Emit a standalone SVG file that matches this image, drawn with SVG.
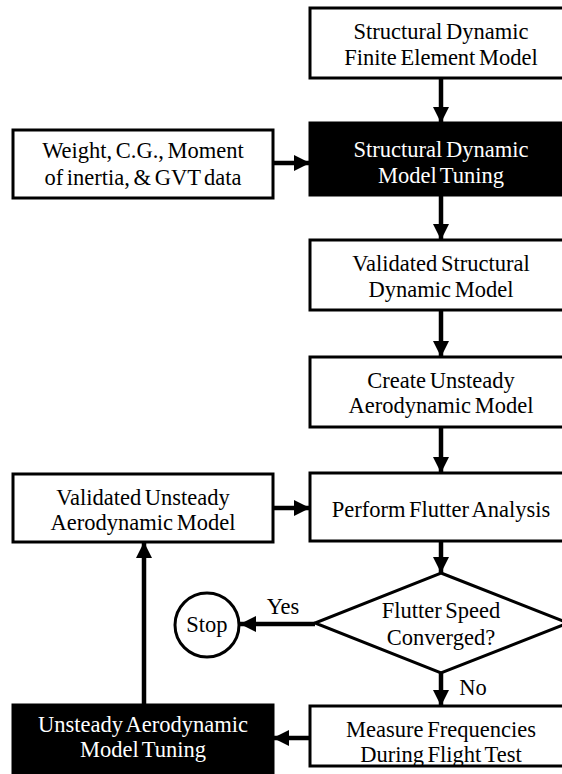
<svg xmlns="http://www.w3.org/2000/svg" width="562" height="774" viewBox="0 0 562 774">
  <style>
    .box { fill: #fff; stroke: #000; stroke-width: 3; }
    .dark { fill: #000; stroke: #000; stroke-width: 3; }
    text { font-family: 'Liberation Serif', 'DejaVu Serif', serif; font-size: 22.5px; word-spacing: -2px; fill: #000; text-anchor: middle; }
    text.w { fill: #fff; }
    .link { fill: none; stroke: #000; stroke-width: 4.5; }
  </style>
  <defs>
    <marker id="head" markerUnits="userSpaceOnUse" markerWidth="16" markerHeight="16" viewBox="0 0 16 16" refX="16" refY="8" orient="auto">
      <path d="M0,0 L16,8 L0,16 Z" fill="#000"/>
    </marker>
  </defs>
  <rect width="562" height="774" fill="#fff"/>

  <g id="connectors">
    <line class="link" x1="441" y1="78" x2="441" y2="123" marker-end="url(#head)"/>
    <line class="link" x1="273" y1="163" x2="310" y2="163" marker-end="url(#head)"/>
    <line class="link" x1="441" y1="195" x2="441" y2="240" marker-end="url(#head)"/>
    <line class="link" x1="441" y1="310" x2="441" y2="357" marker-end="url(#head)"/>
    <line class="link" x1="441" y1="427" x2="441" y2="473" marker-end="url(#head)"/>
    <line class="link" x1="273" y1="508" x2="310" y2="508" marker-end="url(#head)"/>
    <line class="link" x1="441" y1="541" x2="441" y2="573" marker-end="url(#head)"/>
    <line class="link" x1="315" y1="624" x2="240" y2="624" marker-end="url(#head)"/>
    <line class="link" x1="441" y1="673" x2="441" y2="706" marker-end="url(#head)"/>
    <line class="link" x1="310" y1="738" x2="273" y2="738" marker-end="url(#head)"/>
    <line class="link" x1="144" y1="705" x2="144" y2="542" marker-end="url(#head)"/>
    <text x="283" y="614">Yes</text>
    <text x="473" y="695">No</text>
  </g>

  <g id="fe-model">
    <rect class="box" x="310" y="8" width="262" height="70"/>
    <text x="441" y="39">Structural Dynamic</text>
    <text x="441" y="65">Finite Element Model</text>
  </g>

  <g id="sd-tuning">
    <rect class="dark" x="310" y="123" width="262" height="72"/>
    <text class="w" x="441" y="157">Structural Dynamic</text>
    <text class="w" x="441" y="183">Model Tuning</text>
  </g>

  <g id="gvt-data">
    <rect class="box" x="13" y="130" width="260" height="68"/>
    <text x="143" y="158">Weight, C.G., Moment</text>
    <text x="143" y="185">of inertia, &amp; GVT data</text>
  </g>

  <g id="validated-sd">
    <rect class="box" x="310" y="240" width="262" height="70"/>
    <text x="441" y="271">Validated Structural</text>
    <text x="441" y="297">Dynamic Model</text>
  </g>

  <g id="create-aero">
    <rect class="box" x="310" y="357" width="262" height="70"/>
    <text x="441" y="388">Create Unsteady</text>
    <text x="441" y="413">Aerodynamic Model</text>
  </g>

  <g id="flutter-analysis">
    <rect class="box" x="310" y="473" width="262" height="68"/>
    <text x="441" y="517">Perform Flutter Analysis</text>
  </g>

  <g id="validated-aero">
    <rect class="box" x="13" y="474" width="260" height="68"/>
    <text x="143" y="505">Validated Unsteady</text>
    <text x="143" y="530">Aerodynamic Model</text>
  </g>

  <g id="converged">
    <polygon class="box" points="441,573 568,623 441,673 315,623"/>
    <text x="441" y="618">Flutter Speed</text>
    <text x="441" y="645">Converged?</text>
  </g>

  <g id="stop">
    <circle class="box" cx="207" cy="625" r="32"/>
    <text x="207" y="632">Stop</text>
  </g>

  <g id="flight-test">
    <rect class="box" x="310" y="706" width="262" height="60"/>
    <text x="441" y="737">Measure Frequencies</text>
    <text x="441" y="762">During Flight Test</text>
  </g>

  <g id="aero-tuning">
    <rect class="dark" x="13" y="705" width="260" height="72"/>
    <text class="w" x="143" y="732">Unsteady Aerodynamic</text>
    <text class="w" x="143" y="757">Model Tuning</text>
  </g>
</svg>
